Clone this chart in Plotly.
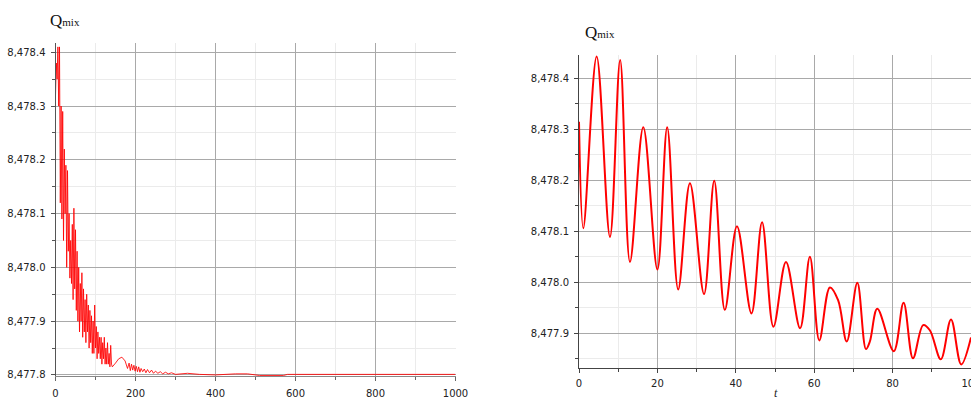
import plotly.graph_objects as go

# ---------------- data ----------------
# Left panel: Qmix over t = 0..1000 (dense, decaying oscillation)
t_left = [0, 2, 4, 6, 8, 10, 12, 14, 16, 18, 20, 22, 24, 26, 28, 30, 32, 34, 36, 38,
          40, 42, 44, 46, 48, 50, 52, 54, 56, 58, 60, 62, 64, 66, 68, 70, 72, 74, 76, 78,
          80, 82, 84, 86, 88, 90, 92, 94, 96, 98, 100, 102, 104, 106, 108, 110, 112, 114,
          116, 118, 120, 122, 124, 126, 128, 130, 132, 134, 136, 138, 140, 142, 150, 158,
          166, 174, 180, 184, 187, 190, 193, 196, 199, 202, 205, 208, 211, 214, 218, 222,
          226, 230, 235, 240, 245, 250, 256, 262, 268, 275, 282, 290, 300, 330, 360, 400,
          450, 480, 510, 570, 580, 700, 800, 1000]
q_left = [8478.32, 8478.38, 8478.35, 8478.41, 8478.30, 8478.41, 8478.12, 8478.30, 8478.09, 8478.29,
          8478.05, 8478.22, 8478.10, 8478.19, 8478.00, 8478.18, 8478.03, 8478.10, 8477.98, 8478.05,
          8477.97, 8478.08, 8477.94, 8478.11, 8477.96, 8478.07, 8477.92, 8478.03, 8477.90, 8478.00,
          8477.88, 8477.97, 8477.90, 8477.99, 8477.87, 8477.96, 8477.88, 8477.94, 8477.86, 8477.95,
          8477.88, 8477.93, 8477.85, 8477.92, 8477.86, 8477.91, 8477.84, 8477.90, 8477.84, 8477.93,
          8477.85, 8477.89, 8477.83, 8477.88, 8477.84, 8477.87, 8477.83, 8477.87, 8477.82, 8477.86,
          8477.83, 8477.87, 8477.82, 8477.85, 8477.82, 8477.86, 8477.82, 8477.84, 8477.815, 8477.855,
          8477.82, 8477.815, 8477.822, 8477.830, 8477.833, 8477.826, 8477.812, 8477.822, 8477.808,
          8477.820, 8477.809, 8477.818, 8477.807, 8477.816, 8477.806, 8477.815, 8477.805, 8477.812,
          8477.806, 8477.811, 8477.804, 8477.810, 8477.804, 8477.809, 8477.803, 8477.807, 8477.803,
          8477.806, 8477.802, 8477.805, 8477.802, 8477.804, 8477.801, 8477.803, 8477.801, 8477.800,
          8477.802, 8477.802, 8477.799, 8477.799, 8477.801, 8477.801, 8477.801, 8477.801]

# Right panel: Qmix over t = 0..100 (extrema and shoulders of the oscillation)
t_right = [0, 1.1, 4.5, 7.9, 10.5, 13.0, 16.4, 20.0, 22.5, 25.3, 28.3, 31.9, 34.5, 37.2,
           40.3, 44.0, 46.7, 49.6, 52.8, 56.4, 58.9, 61.3, 64.0, 66.1, 68.3, 71.0, 73.2,
           74.2, 76.1, 80.3, 82.8, 85.2, 87.8, 89.5, 92.3, 94.9, 97.5, 100]
q_right = [8478.315, 8478.106, 8478.443, 8478.089, 8478.436, 8478.040, 8478.304, 8478.025,
           8478.304, 8477.986, 8478.194, 8477.977, 8478.199, 8477.946, 8478.110, 8477.939,
           8478.118, 8477.913, 8478.040, 8477.910, 8478.050, 8477.886, 8477.990, 8477.965,
           8477.884, 8477.999, 8477.869, 8477.884, 8477.948, 8477.865, 8477.960, 8477.851,
           8477.916, 8477.906, 8477.849, 8477.927, 8477.839, 8477.892]

# ---------------- figure ----------------
W, H = 971, 401


def px(x):
    return x / W


def py(y):
    return 1 - y / H


fig = go.Figure()
fig.add_trace(go.Scatter(x=t_left, y=q_left, mode="lines",
                         line=dict(color="rgba(255,0,0,0.85)", width=1),
                         xaxis="x", yaxis="y", hoverinfo="skip"))
fig.add_trace(go.Scatter(x=t_right, y=q_right, mode="lines",
                         line=dict(color="#ff0000", width=2, shape="spline", smoothing=1.0),
                         xaxis="x2", yaxis="y2", hoverinfo="skip"))

tick_font = dict(family="DejaVu Sans", size=10, color="#222")
major_grid = "#a9a9a9"
minor_grid = "#ebebeb"

common = dict(automargin=False, showgrid=True, gridcolor=major_grid, gridwidth=1,
              zeroline=False, showline=True, ticks="outside", ticklen=4,
              tickfont=tick_font, ticklabeloverflow="allow")

fig.update_layout(
    template="none",
    width=W, height=H,
    margin=dict(l=0, r=0, t=0, b=0, pad=0),
    paper_bgcolor="white", plot_bgcolor="white",
    showlegend=False,
    xaxis=dict(domain=[px(55.5), px(455.5)], range=[0, 1000], anchor="y",
               tick0=0, dtick=200, linecolor="#888", tickcolor="#666",
               minor=dict(dtick=100, showgrid=True, gridcolor=minor_grid,
                          ticks="outside", ticklen=3, tickcolor="#666"),
               ticklabelstandoff=4, **common),
    yaxis=dict(domain=[py(376), py(43.3)], range=[8477.798, 8478.4167], anchor="x",
               tick0=8477.8, dtick=0.1, tickformat=",.1f",
               linecolor="#555", tickcolor="#555",
               minor=dict(dtick=0.05, showgrid=True, gridcolor=minor_grid,
                          ticks="outside", ticklen=3, tickcolor="#555"),
               ticklabelstandoff=3, **common),
    xaxis2=dict(domain=[px(579), 1.0], range=[0, 100], anchor="y2",
                tick0=0, dtick=20, linecolor="#444", tickcolor="#444",
                minor=dict(dtick=10, showgrid=True, gridcolor=minor_grid,
                           ticks="outside", ticklen=3, tickcolor="#444"),
                ticklabelstandoff=2, **common),
    yaxis2=dict(domain=[py(368.3), py(55)], range=[8477.8314, 8478.4457], anchor="x2",
                tick0=8477.8, dtick=0.1, tickformat=",.1f",
                linecolor="#444", tickcolor="#444",
                minor=dict(dtick=0.05, showgrid=True, gridcolor=minor_grid,
                           ticks="outside", ticklen=3, tickcolor="#444"),
                ticklabelstandoff=3, **common),
)

qlabel = "Q<span style='font-size:11px'>mix</span>"
serif = "Liberation Serif"
fig.add_annotation(x=px(48), y=py(20), xref="paper", yref="paper",
                   text=qlabel, showarrow=False, xanchor="left", yanchor="middle",
                   font=dict(family=serif, size=17, color="#111"))
fig.add_annotation(x=px(583), y=py(33), xref="paper", yref="paper",
                   text=qlabel, showarrow=False, xanchor="left", yanchor="middle",
                   font=dict(family=serif, size=17, color="#111"))
fig.add_annotation(x=px(776), y=py(393), xref="paper", yref="paper",
                   text="<i>t</i>", showarrow=False, xanchor="center", yanchor="middle",
                   font=dict(family=serif, size=12, color="#222"))
fig.add_annotation(x=px(256), y=py(405), xref="paper", yref="paper",
                   text="<i>t</i>", showarrow=False, xanchor="center", yanchor="middle",
                   font=dict(family=serif, size=12, color="#222"))

fig.write_html("out.html", config={"displayModeBar": False},
               post_script="document.body.style.margin='0';"
                           "document.body.style.overflow='hidden';")
